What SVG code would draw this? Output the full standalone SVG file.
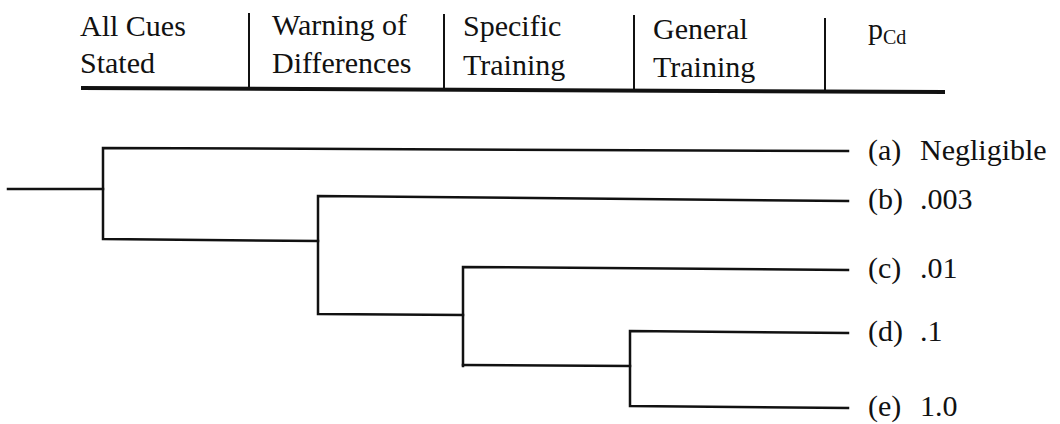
<svg xmlns="http://www.w3.org/2000/svg" width="1060" height="424" viewBox="0 0 1060 424">
<style>
text{font-family:"Liberation Serif","Times New Roman",serif;font-size:30px;fill:#111}
.sub{font-size:20px}
.sep{stroke:#111;stroke-width:2}
.rule{stroke:#111;stroke-width:4}
.br{stroke:#111;stroke-width:2.5;fill:none;stroke-linecap:square}
</style>
<rect width="1060" height="424" fill="#fff"/>
<g id="header">
<text x="80" y="36">All Cues</text>
<text x="80" y="73">Stated</text>
<text x="272" y="35">Warning of</text>
<text x="272" y="73">Differences</text>
<text x="463" y="36">Specific</text>
<text x="463" y="75">Training</text>
<text x="653" y="39">General</text>
<text x="653" y="77">Training</text>
<text x="868" y="39">p<tspan class="sub" dy="5">Cd</tspan></text>
<line class="sep" x1="249" y1="13" x2="249" y2="87"/>
<line class="sep" x1="444" y1="14" x2="444" y2="88"/>
<line class="sep" x1="634" y1="15" x2="634" y2="89"/>
<line class="sep" x1="825" y1="18" x2="825" y2="90"/>
<line class="rule" x1="81" y1="88" x2="945" y2="92"/>
</g>
<g id="connectors">
<path class="br" d="M8,189 H103"/>
<path class="br" d="M848,151 L103,148 V239 L318,241"/>
<path class="br" d="M848,201 L318,196 V314 L463,315"/>
<path class="br" d="M848,270 L463,267 V366"/>
<path class="br" d="M463,365 L630,366"/>
<path class="br" d="M848,333 L630,331 V406 L848,408"/>
</g>
<g id="leaf-a"><text x="868" y="160">(a)</text><text x="920" y="160">Negligible</text></g>
<g id="leaf-b"><text x="868" y="209">(b)</text><text x="920" y="209">.003</text></g>
<g id="leaf-c"><text x="868" y="278">(c)</text><text x="920" y="278">.01</text></g>
<g id="leaf-d"><text x="868" y="341">(d)</text><text x="920" y="341">.1</text></g>
<g id="leaf-e"><text x="868" y="416">(e)</text><text x="920" y="416">1.0</text></g>
</svg>
